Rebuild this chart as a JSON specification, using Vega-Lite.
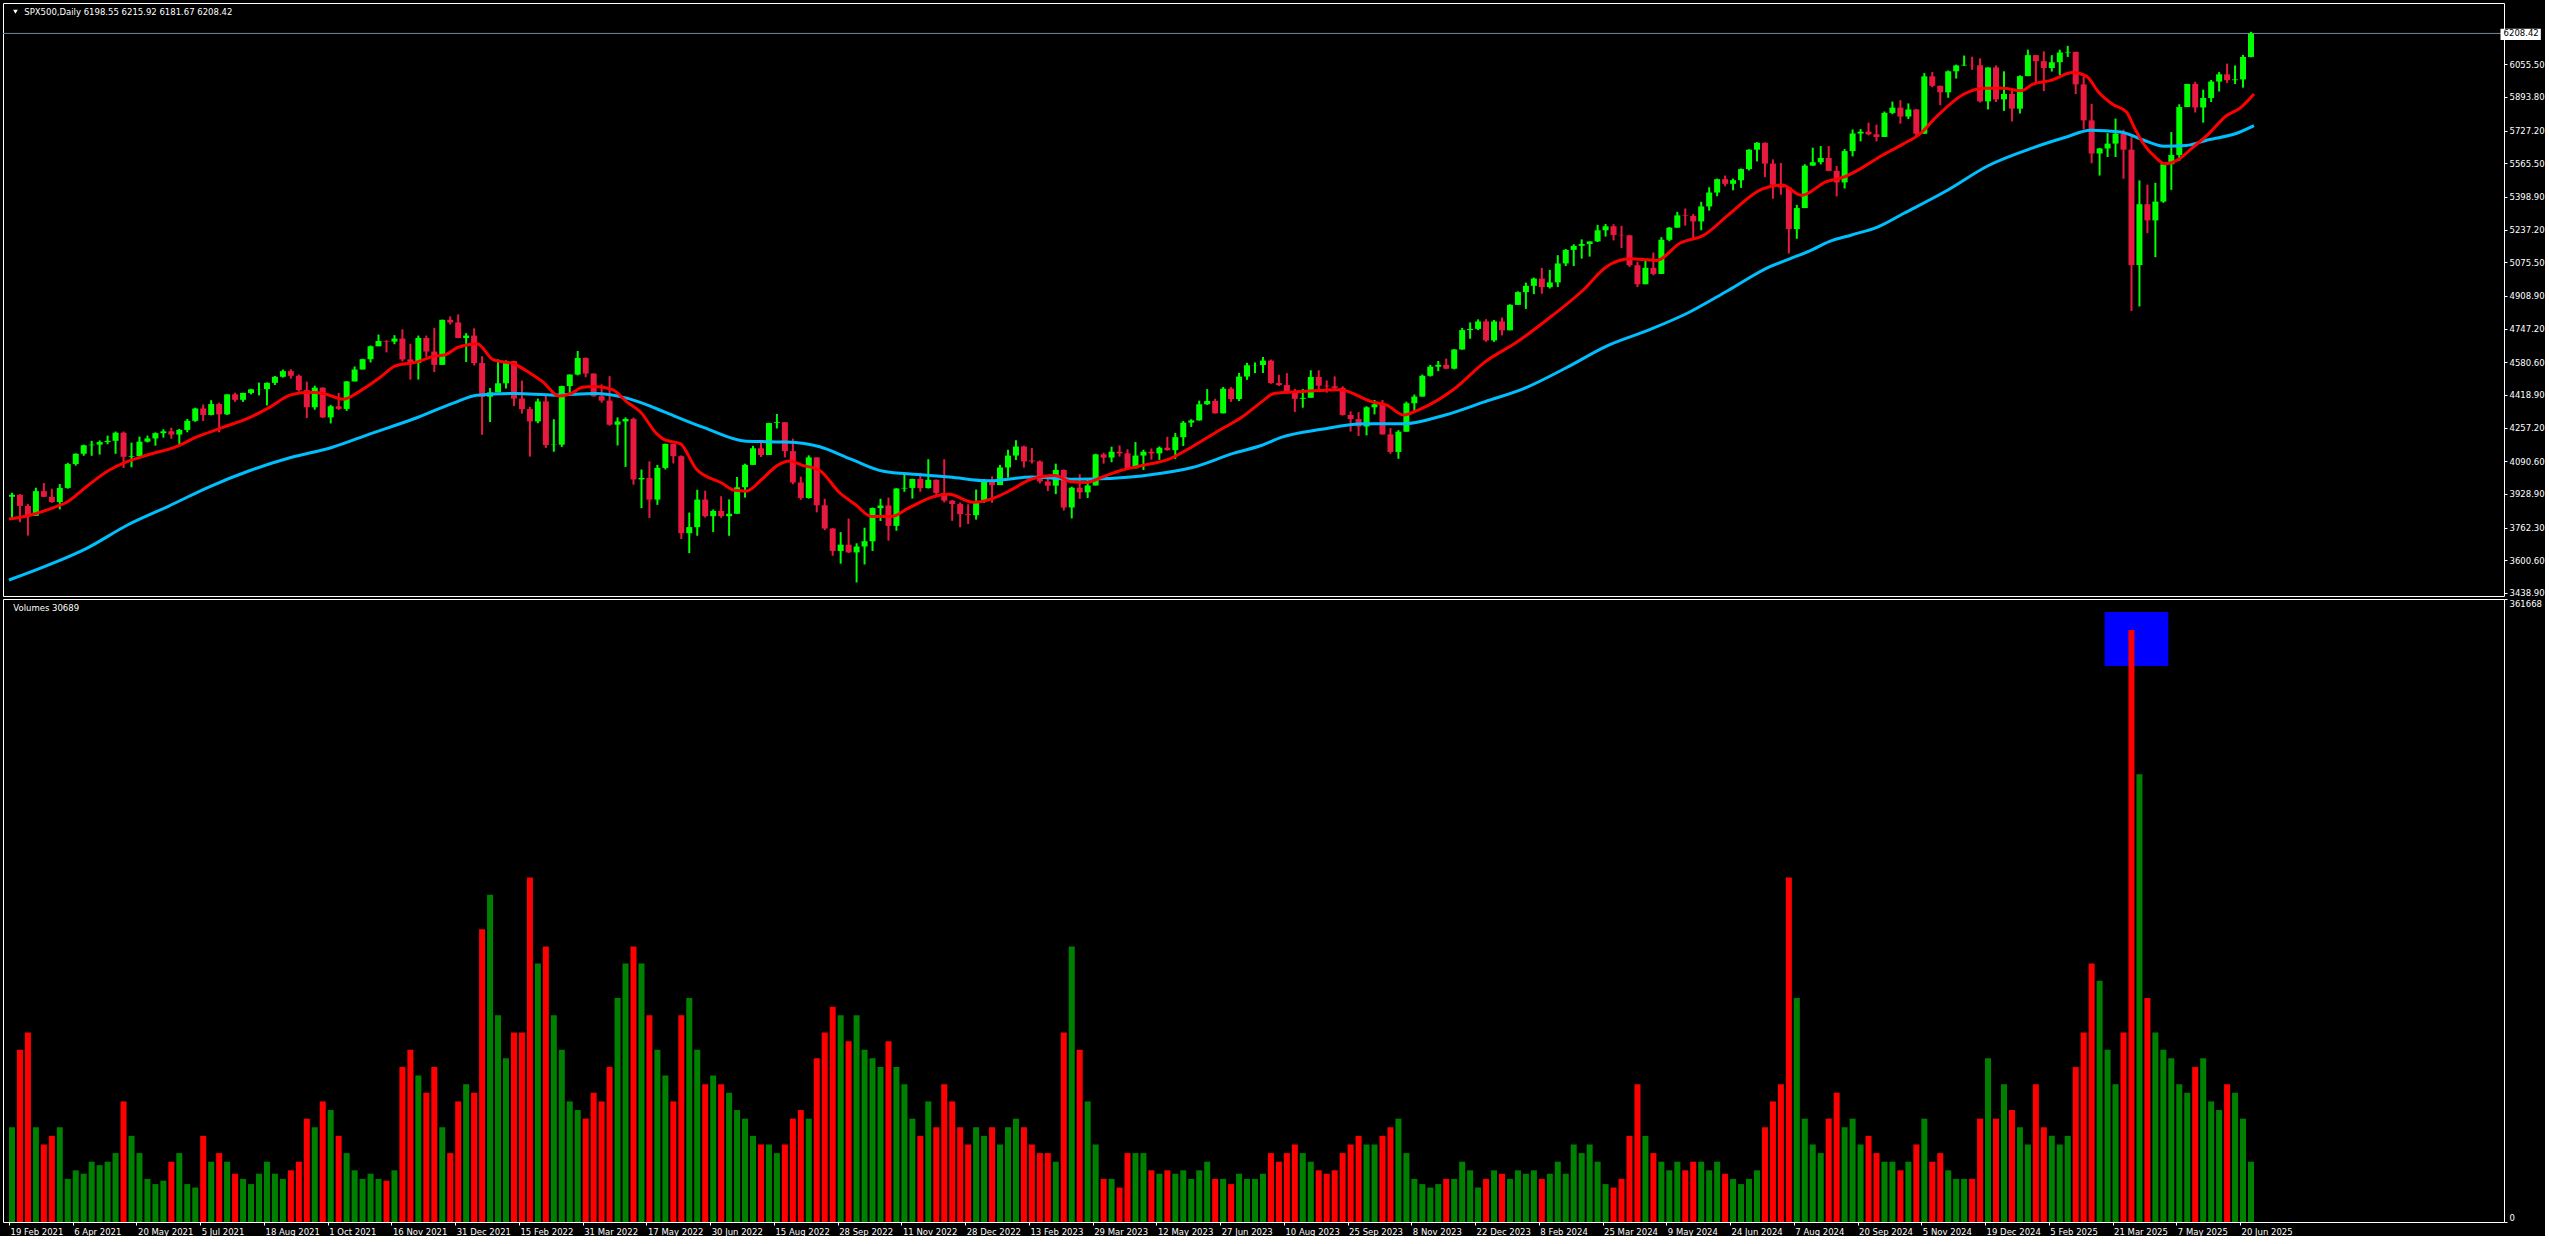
{
"$schema":"https://vega.github.io/schema/vega-lite/v6.json",
"background":"#000000",
"padding":{"left":2,"top":2,"right":0,"bottom":0},
"spacing":3,
"bounds":"flush",
"config":{"font":"DejaVu Sans","view":{"stroke":"#ffffff","strokeWidth":1,"fill":"#000000"},"axis":{"labelColor":"#ffffff","tickColor":"#ffffff","domain":false,"grid":false,"labelFont":"DejaVu Sans","labelFontSize":8.5,"tickSize":3,"labelPadding":2,"labelOverlap":false}},
"datasets":{
"bars":[
{"t":1.5,"o":3915,"h":3935,"l":3805,"c":3925,"v":55000},{"t":5.5,"o":3925,"h":3928,"l":3789,"c":3870,"v":100000},{"t":9.5,"o":3870,"h":3880,"l":3723,"c":3821,"v":110000},{"t":13.5,"o":3821,"h":3960,"l":3821,"c":3943,"v":55000},{"t":17.5,"o":3943,"h":3983,"l":3914,"c":3915,"v":45000},{"t":21.5,"o":3915,"h":3955,"l":3885,"c":3889,"v":50000},{"t":25.5,"o":3889,"h":3978,"l":3853,"c":3959,"v":55000},{"t":29.5,"o":3959,"h":4083,"l":3955,"c":4077,"v":25000},
{"t":33.5,"o":4077,"h":4130,"l":4069,"c":4128,"v":30000},{"t":37.5,"o":4128,"h":4173,"l":4118,"c":4170,"v":28000},{"t":41.5,"o":4170,"h":4192,"l":4118,"c":4173,"v":35000},{"t":45.5,"o":4173,"h":4194,"l":4124,"c":4186,"v":33000},{"t":49.5,"o":4186,"h":4218,"l":4175,"c":4192,"v":35000},{"t":53.5,"o":4192,"h":4238,"l":4128,"c":4232,"v":40000},{"t":57.5,"o":4232,"h":4238,"l":4057,"c":4113,"v":70000},{"t":61.5,"o":4113,"h":4183,"l":4061,"c":4116,"v":50000},
{"t":65.5,"o":4116,"h":4213,"l":4112,"c":4188,"v":40000},{"t":69.5,"o":4188,"h":4218,"l":4184,"c":4204,"v":25000},{"t":73.5,"o":4204,"h":4234,"l":4168,"c":4230,"v":22000},{"t":77.5,"o":4230,"h":4249,"l":4208,"c":4239,"v":24000},{"t":81.5,"o":4239,"h":4257,"l":4202,"c":4223,"v":35000},{"t":85.5,"o":4223,"h":4251,"l":4164,"c":4246,"v":40000},{"t":89.5,"o":4246,"h":4300,"l":4234,"c":4291,"v":22000},{"t":93.5,"o":4291,"h":4356,"l":4286,"c":4352,"v":20000},
{"t":97.5,"o":4352,"h":4372,"l":4290,"c":4320,"v":50000},{"t":101.5,"o":4320,"h":4393,"l":4318,"c":4374,"v":35000},{"t":105.5,"o":4374,"h":4381,"l":4234,"c":4323,"v":40000},{"t":109.5,"o":4323,"h":4422,"l":4320,"c":4422,"v":35000},{"t":113.5,"o":4422,"h":4430,"l":4385,"c":4395,"v":28000},{"t":117.5,"o":4395,"h":4430,"l":4385,"c":4429,"v":25000},{"t":121.5,"o":4429,"h":4449,"l":4422,"c":4447,"v":22000},{"t":125.5,"o":4447,"h":4480,"l":4417,"c":4448,"v":28000},
{"t":129.5,"o":4448,"h":4481,"l":4367,"c":4479,"v":35000},{"t":133.5,"o":4479,"h":4513,"l":4468,"c":4509,"v":28000},{"t":137.5,"o":4509,"h":4545,"l":4505,"c":4537,"v":25000},{"t":141.5,"o":4537,"h":4546,"l":4500,"c":4514,"v":30000},{"t":145.5,"o":4514,"h":4520,"l":4436,"c":4443,"v":35000},{"t":149.5,"o":4443,"h":4485,"l":4305,"c":4358,"v":60000},{"t":153.5,"o":4358,"h":4465,"l":4346,"c":4455,"v":55000},{"t":157.5,"o":4455,"h":4457,"l":4305,"c":4308,"v":70000},
{"t":161.5,"o":4308,"h":4370,"l":4278,"c":4363,"v":65000},{"t":165.5,"o":4363,"h":4429,"l":4345,"c":4350,"v":50000},{"t":169.5,"o":4350,"h":4488,"l":4340,"c":4486,"v":40000},{"t":173.5,"o":4486,"h":4560,"l":4486,"c":4545,"v":30000},{"t":177.5,"o":4545,"h":4598,"l":4545,"c":4596,"v":25000},{"t":181.5,"o":4596,"h":4664,"l":4580,"c":4660,"v":28000},{"t":185.5,"o":4660,"h":4718,"l":4660,"c":4686,"v":25000},{"t":189.5,"o":4686,"h":4690,"l":4630,"c":4683,"v":24000},
{"t":193.5,"o":4683,"h":4715,"l":4670,"c":4698,"v":30000},{"t":197.5,"o":4698,"h":4744,"l":4585,"c":4595,"v":90000},{"t":201.5,"o":4595,"h":4672,"l":4495,"c":4577,"v":100000},{"t":205.5,"o":4577,"h":4713,"l":4495,"c":4701,"v":85000},{"t":209.5,"o":4701,"h":4713,"l":4608,"c":4634,"v":75000},{"t":213.5,"o":4634,"h":4751,"l":4532,"c":4568,"v":90000},{"t":217.5,"o":4568,"h":4792,"l":4568,"c":4791,"v":55000},{"t":221.5,"o":4791,"h":4808,"l":4768,"c":4778,"v":40000},
{"t":225.5,"o":4778,"h":4818,"l":4700,"c":4701,"v":70000},{"t":229.5,"o":4701,"h":4725,"l":4582,"c":4713,"v":80000},{"t":233.5,"o":4713,"h":4749,"l":4565,"c":4577,"v":75000},{"t":237.5,"o":4577,"h":4611,"l":4222,"c":4410,"v":170000},{"t":241.5,"o":4410,"h":4453,"l":4285,"c":4432,"v":190000},{"t":245.5,"o":4432,"h":4595,"l":4432,"c":4477,"v":120000},{"t":249.5,"o":4477,"h":4590,"l":4451,"c":4587,"v":95000},{"t":253.5,"o":4587,"h":4588,"l":4364,"c":4401,"v":110000},
{"t":257.5,"o":4401,"h":4490,"l":4327,"c":4349,"v":110000},{"t":261.5,"o":4349,"h":4360,"l":4114,"c":4288,"v":200000},{"t":265.5,"o":4288,"h":4401,"l":4279,"c":4387,"v":150000},{"t":269.5,"o":4387,"h":4416,"l":4157,"c":4171,"v":160000},{"t":273.5,"o":4171,"h":4299,"l":4138,"c":4173,"v":120000},{"t":277.5,"o":4173,"h":4465,"l":4162,"c":4463,"v":100000},{"t":281.5,"o":4463,"h":4521,"l":4424,"c":4520,"v":70000},{"t":285.5,"o":4520,"h":4637,"l":4516,"c":4602,"v":65000},
{"t":289.5,"o":4602,"h":4605,"l":4507,"c":4525,"v":60000},{"t":293.5,"o":4525,"h":4525,"l":4410,"c":4413,"v":75000},{"t":297.5,"o":4413,"h":4471,"l":4381,"c":4391,"v":70000},{"t":301.5,"o":4391,"h":4512,"l":4267,"c":4272,"v":90000},{"t":305.5,"o":4272,"h":4308,"l":4169,"c":4288,"v":130000},{"t":309.5,"o":4288,"h":4308,"l":4063,"c":4300,"v":150000},{"t":313.5,"o":4300,"h":4307,"l":3975,"c":4001,"v":160000},{"t":317.5,"o":4001,"h":4050,"l":3859,"c":4008,"v":150000},
{"t":321.5,"o":4008,"h":4090,"l":3810,"c":3901,"v":120000},{"t":325.5,"o":3901,"h":4073,"l":3875,"c":4058,"v":100000},{"t":329.5,"o":4058,"h":4178,"l":4050,"c":4177,"v":85000},{"t":333.5,"o":4177,"h":4177,"l":4080,"c":4116,"v":70000},{"t":337.5,"o":4116,"h":4120,"l":3706,"c":3735,"v":120000},{"t":341.5,"o":3735,"h":3837,"l":3636,"c":3765,"v":130000},{"t":345.5,"o":3765,"h":3950,"l":3722,"c":3901,"v":100000},{"t":349.5,"o":3901,"h":3945,"l":3812,"c":3819,"v":80000},
{"t":353.5,"o":3819,"h":3852,"l":3741,"c":3845,"v":85000},{"t":357.5,"o":3845,"h":3918,"l":3811,"c":3819,"v":80000},{"t":361.5,"o":3819,"h":3902,"l":3722,"c":3831,"v":75000},{"t":365.5,"o":3831,"h":4013,"l":3831,"c":3962,"v":65000},{"t":369.5,"o":3962,"h":4079,"l":3911,"c":4073,"v":60000},{"t":373.5,"o":4073,"h":4167,"l":4073,"c":4155,"v":50000},{"t":377.5,"o":4155,"h":4187,"l":4112,"c":4122,"v":45000},{"t":381.5,"o":4122,"h":4281,"l":4122,"c":4280,"v":45000},
{"t":385.5,"o":4280,"h":4325,"l":4253,"c":4284,"v":40000},{"t":389.5,"o":4284,"h":4284,"l":4110,"c":4141,"v":45000},{"t":393.5,"o":4141,"h":4203,"l":3977,"c":3986,"v":60000},{"t":397.5,"o":3986,"h":4015,"l":3900,"c":3909,"v":65000},{"t":401.5,"o":3909,"h":4120,"l":3906,"c":4110,"v":60000},{"t":405.5,"o":4110,"h":4110,"l":3838,"c":3873,"v":95000},{"t":409.5,"o":3873,"h":3905,"l":3750,"c":3758,"v":110000},{"t":413.5,"o":3758,"h":3760,"l":3623,"c":3647,"v":125000},
{"t":417.5,"o":3647,"h":3740,"l":3584,"c":3678,"v":120000},{"t":421.5,"o":3678,"h":3807,"l":3637,"c":3640,"v":105000},{"t":425.5,"o":3640,"h":3685,"l":3491,"c":3669,"v":120000},{"t":429.5,"o":3669,"h":3762,"l":3580,"c":3695,"v":100000},{"t":433.5,"o":3695,"h":3862,"l":3647,"c":3859,"v":95000},{"t":437.5,"o":3859,"h":3905,"l":3795,"c":3872,"v":90000},{"t":441.5,"o":3872,"h":3911,"l":3698,"c":3771,"v":105000},{"t":445.5,"o":3771,"h":3958,"l":3747,"c":3956,"v":90000},
{"t":449.5,"o":3956,"h":4028,"l":3940,"c":3959,"v":80000},{"t":453.5,"o":3959,"h":4005,"l":3906,"c":4003,"v":60000},{"t":457.5,"o":4003,"h":4034,"l":3940,"c":3958,"v":50000},{"t":461.5,"o":3958,"h":4101,"l":3956,"c":3999,"v":70000},{"t":465.5,"o":3999,"h":4001,"l":3919,"c":3934,"v":55000},{"t":469.5,"o":3934,"h":4101,"l":3887,"c":3896,"v":80000},{"t":473.5,"o":3896,"h":3900,"l":3796,"c":3879,"v":70000},{"t":477.5,"o":3879,"h":3887,"l":3764,"c":3829,"v":55000},
{"t":481.5,"o":3829,"h":3878,"l":3780,"c":3824,"v":45000},{"t":485.5,"o":3824,"h":3951,"l":3802,"c":3893,"v":55000},{"t":489.5,"o":3893,"h":4003,"l":3885,"c":3999,"v":50000},{"t":493.5,"o":3999,"h":4016,"l":3885,"c":3973,"v":55000},{"t":497.5,"o":3973,"h":4073,"l":3973,"c":4060,"v":45000},{"t":501.5,"o":4060,"h":4148,"l":4010,"c":4119,"v":55000},{"t":505.5,"o":4119,"h":4195,"l":4097,"c":4164,"v":60000},{"t":509.5,"o":4164,"h":4168,"l":4060,"c":4090,"v":55000},
{"t":513.5,"o":4095,"h":4156,"l":4080,"c":4090,"v":45000},{"t":517.5,"o":4090,"h":4095,"l":3981,"c":3991,"v":40000},{"t":521.5,"o":3991,"h":4018,"l":3943,"c":3970,"v":40000},{"t":525.5,"o":3970,"h":4079,"l":3928,"c":4048,"v":35000},{"t":529.5,"o":4048,"h":4050,"l":3847,"c":3862,"v":110000},{"t":533.5,"o":3862,"h":3965,"l":3808,"c":3960,"v":160000},{"t":537.5,"o":3960,"h":4027,"l":3905,"c":3937,"v":100000},{"t":541.5,"o":3937,"h":4000,"l":3909,"c":3971,"v":70000},
{"t":545.5,"o":3971,"h":4128,"l":3971,"c":4125,"v":45000},{"t":549.5,"o":4125,"h":4133,"l":4079,"c":4109,"v":25000},{"t":553.5,"o":4109,"h":4163,"l":4086,"c":4138,"v":25000},{"t":557.5,"o":4138,"h":4169,"l":4114,"c":4130,"v":20000},{"t":561.5,"o":4130,"h":4150,"l":4049,"c":4056,"v":40000},{"t":565.5,"o":4056,"h":4186,"l":4056,"c":4119,"v":40000},{"t":569.5,"o":4119,"h":4148,"l":4048,"c":4138,"v":40000},{"t":573.5,"o":4138,"h":4154,"l":4099,"c":4130,"v":30000},
{"t":577.5,"o":4130,"h":4164,"l":4098,"c":4158,"v":28000},{"t":581.5,"o":4158,"h":4212,"l":4143,"c":4146,"v":30000},{"t":585.5,"o":4146,"h":4231,"l":4103,"c":4210,"v":28000},{"t":589.5,"o":4210,"h":4290,"l":4166,"c":4282,"v":30000},{"t":593.5,"o":4282,"h":4299,"l":4261,"c":4293,"v":25000},{"t":597.5,"o":4293,"h":4391,"l":4292,"c":4373,"v":30000},{"t":601.5,"o":4373,"h":4448,"l":4370,"c":4389,"v":35000},{"t":605.5,"o":4389,"h":4400,"l":4327,"c":4328,"v":25000},
{"t":609.5,"o":4328,"h":4458,"l":4328,"c":4450,"v":25000},{"t":613.5,"o":4450,"h":4458,"l":4385,"c":4399,"v":22000},{"t":617.5,"o":4399,"h":4528,"l":4389,"c":4510,"v":28000},{"t":621.5,"o":4510,"h":4578,"l":4494,"c":4566,"v":25000},{"t":625.5,"o":4566,"h":4580,"l":4527,"c":4567,"v":25000},{"t":629.5,"o":4567,"h":4607,"l":4528,"c":4589,"v":28000},{"t":633.5,"o":4589,"h":4594,"l":4474,"c":4478,"v":40000},{"t":637.5,"o":4478,"h":4519,"l":4463,"c":4468,"v":35000},
{"t":641.5,"o":4468,"h":4527,"l":4432,"c":4437,"v":40000},{"t":645.5,"o":4437,"h":4449,"l":4335,"c":4400,"v":45000},{"t":649.5,"o":4400,"h":4448,"l":4356,"c":4405,"v":40000},{"t":653.5,"o":4405,"h":4541,"l":4405,"c":4508,"v":35000},{"t":657.5,"o":4508,"h":4541,"l":4442,"c":4465,"v":30000},{"t":661.5,"o":4465,"h":4491,"l":4430,"c":4462,"v":28000},{"t":665.5,"o":4462,"h":4511,"l":4442,"c":4454,"v":30000},{"t":669.5,"o":4454,"h":4462,"l":4317,"c":4320,"v":40000},
{"t":673.5,"o":4320,"h":4338,"l":4238,"c":4300,"v":45000},{"t":677.5,"o":4300,"h":4334,"l":4216,"c":4263,"v":50000},{"t":681.5,"o":4263,"h":4363,"l":4219,"c":4358,"v":45000},{"t":685.5,"o":4358,"h":4394,"l":4323,"c":4373,"v":45000},{"t":689.5,"o":4373,"h":4394,"l":4223,"c":4224,"v":50000},{"t":693.5,"o":4224,"h":4255,"l":4128,"c":4137,"v":55000},{"t":697.5,"o":4137,"h":4245,"l":4103,"c":4237,"v":60000},{"t":701.5,"o":4237,"h":4386,"l":4237,"c":4378,"v":40000},
{"t":705.5,"o":4378,"h":4421,"l":4340,"c":4411,"v":25000},{"t":709.5,"o":4411,"h":4520,"l":4411,"c":4514,"v":22000},{"t":713.5,"o":4514,"h":4568,"l":4510,"c":4559,"v":20000},{"t":717.5,"o":4559,"h":4587,"l":4537,"c":4568,"v":22000},{"t":721.5,"o":4568,"h":4599,"l":4546,"c":4549,"v":25000},{"t":725.5,"o":4549,"h":4646,"l":4546,"c":4644,"v":25000},{"t":729.5,"o":4644,"h":4751,"l":4643,"c":4740,"v":35000},{"t":733.5,"o":4740,"h":4778,"l":4697,"c":4746,"v":30000},
{"t":737.5,"o":4746,"h":4793,"l":4740,"c":4783,"v":20000},{"t":741.5,"o":4783,"h":4794,"l":4682,"c":4689,"v":25000},{"t":745.5,"o":4689,"h":4790,"l":4682,"c":4783,"v":30000},{"t":749.5,"o":4783,"h":4802,"l":4714,"c":4739,"v":28000},{"t":753.5,"o":4739,"h":4868,"l":4739,"c":4865,"v":25000},{"t":757.5,"o":4865,"h":4932,"l":4865,"c":4928,"v":30000},{"t":761.5,"o":4928,"h":4975,"l":4845,"c":4959,"v":28000},{"t":765.5,"o":4959,"h":5000,"l":4918,"c":4995,"v":30000},
{"t":769.5,"o":4995,"h":5048,"l":4920,"c":4953,"v":25000},{"t":773.5,"o":4953,"h":5038,"l":4946,"c":4976,"v":28000},{"t":777.5,"o":4976,"h":5111,"l":4953,"c":5070,"v":35000},{"t":781.5,"o":5070,"h":5141,"l":5057,"c":5137,"v":28000},{"t":785.5,"o":5137,"h":5165,"l":5057,"c":5157,"v":45000},{"t":789.5,"o":5157,"h":5189,"l":5094,"c":5166,"v":40000},{"t":793.5,"o":5166,"h":5179,"l":5104,"c":5179,"v":45000},{"t":797.5,"o":5179,"h":5261,"l":5176,"c":5234,"v":35000},
{"t":801.5,"o":5234,"h":5265,"l":5203,"c":5254,"v":22000},{"t":805.5,"o":5254,"h":5264,"l":5184,"c":5211,"v":20000},{"t":809.5,"o":5211,"h":5256,"l":5146,"c":5209,"v":25000},{"t":813.5,"o":5209,"h":5211,"l":5053,"c":5061,"v":50000},{"t":817.5,"o":5061,"h":5078,"l":4953,"c":4967,"v":80000},{"t":821.5,"o":4967,"h":5089,"l":4967,"c":5048,"v":50000},{"t":825.5,"o":5048,"h":5124,"l":5011,"c":5018,"v":40000},{"t":829.5,"o":5018,"h":5200,"l":5018,"c":5187,"v":35000},
{"t":833.5,"o":5187,"h":5250,"l":5180,"c":5247,"v":30000},{"t":837.5,"o":5247,"h":5325,"l":5247,"c":5308,"v":35000},{"t":841.5,"o":5308,"h":5342,"l":5257,"c":5305,"v":30000},{"t":845.5,"o":5305,"h":5315,"l":5191,"c":5278,"v":35000},{"t":849.5,"o":5278,"h":5375,"l":5234,"c":5352,"v":35000},{"t":853.5,"o":5352,"h":5447,"l":5331,"c":5421,"v":30000},{"t":857.5,"o":5421,"h":5490,"l":5403,"c":5487,"v":35000},{"t":861.5,"o":5487,"h":5505,"l":5452,"c":5464,"v":28000},
{"t":865.5,"o":5464,"h":5490,"l":5432,"c":5482,"v":25000},{"t":869.5,"o":5482,"h":5540,"l":5444,"c":5537,"v":22000},{"t":873.5,"o":5537,"h":5635,"l":5530,"c":5633,"v":25000},{"t":877.5,"o":5633,"h":5670,"l":5575,"c":5667,"v":30000},{"t":881.5,"o":5667,"h":5669,"l":5497,"c":5564,"v":55000},{"t":885.5,"o":5564,"h":5585,"l":5390,"c":5459,"v":70000},{"t":889.5,"o":5459,"h":5567,"l":5410,"c":5446,"v":80000},{"t":893.5,"o":5446,"h":5447,"l":5119,"c":5240,"v":200000},
{"t":897.5,"o":5240,"h":5360,"l":5192,"c":5344,"v":130000},{"t":901.5,"o":5344,"h":5561,"l":5344,"c":5554,"v":60000},{"t":905.5,"o":5554,"h":5643,"l":5554,"c":5571,"v":45000},{"t":909.5,"o":5571,"h":5651,"l":5560,"c":5592,"v":40000},{"t":913.5,"o":5592,"h":5651,"l":5527,"c":5528,"v":60000},{"t":917.5,"o":5528,"h":5552,"l":5402,"c":5471,"v":75000},{"t":921.5,"o":5471,"h":5636,"l":5441,"c":5626,"v":55000},{"t":925.5,"o":5626,"h":5733,"l":5600,"c":5713,"v":60000},
{"t":929.5,"o":5713,"h":5735,"l":5674,"c":5722,"v":45000},{"t":933.5,"o":5722,"h":5767,"l":5704,"c":5709,"v":50000},{"t":937.5,"o":5709,"h":5757,"l":5674,"c":5696,"v":40000},{"t":941.5,"o":5696,"h":5822,"l":5696,"c":5815,"v":35000},{"t":945.5,"o":5815,"h":5871,"l":5809,"c":5841,"v":35000},{"t":949.5,"o":5841,"h":5878,"l":5762,"c":5797,"v":30000},{"t":953.5,"o":5797,"h":5862,"l":5785,"c":5832,"v":35000},{"t":957.5,"o":5832,"h":5835,"l":5696,"c":5712,"v":45000},
{"t":961.5,"o":5712,"h":6012,"l":5712,"c":5996,"v":60000},{"t":965.5,"o":5996,"h":6018,"l":5942,"c":5949,"v":35000},{"t":969.5,"o":5949,"h":5950,"l":5853,"c":5917,"v":40000},{"t":973.5,"o":5917,"h":6025,"l":5890,"c":6021,"v":30000},{"t":977.5,"o":6021,"h":6054,"l":5985,"c":6050,"v":25000},{"t":981.5,"o":6050,"h":6099,"l":6048,"c":6053,"v":25000},{"t":985.5,"o":6053,"h":6093,"l":6028,"c":6051,"v":25000},{"t":989.5,"o":6051,"h":6085,"l":5867,"c":5872,"v":60000},
{"t":993.5,"o":5872,"h":6040,"l":5832,"c":6040,"v":95000},{"t":997.5,"o":6040,"h":6050,"l":5869,"c":5882,"v":60000},{"t":1001.5,"o":5882,"h":6021,"l":5825,"c":5909,"v":80000},{"t":1005.5,"o":5909,"h":5928,"l":5773,"c":5836,"v":65000},{"t":1009.5,"o":5836,"h":6001,"l":5812,"c":5997,"v":55000},{"t":1013.5,"o":5997,"h":6128,"l":5997,"c":6101,"v":45000},{"t":1017.5,"o":6101,"h":6101,"l":5962,"c":6071,"v":80000},{"t":1021.5,"o":6071,"h":6120,"l":5923,"c":6037,"v":55000},
{"t":1025.5,"o":6037,"h":6101,"l":6020,"c":6066,"v":50000},{"t":1029.5,"o":6066,"h":6128,"l":6003,"c":6114,"v":45000},{"t":1033.5,"o":6114,"h":6147,"l":6092,"c":6117,"v":50000},{"t":1037.5,"o":6117,"h":6118,"l":5908,"c":5956,"v":90000},{"t":1041.5,"o":5956,"h":5993,"l":5733,"c":5778,"v":110000},{"t":1045.5,"o":5778,"h":5860,"l":5566,"c":5614,"v":150000},{"t":1049.5,"o":5614,"h":5642,"l":5505,"c":5639,"v":140000},{"t":1053.5,"o":5639,"h":5715,"l":5597,"c":5663,"v":100000},
{"t":1057.5,"o":5663,"h":5787,"l":5597,"c":5712,"v":80000},{"t":1061.5,"o":5712,"h":5732,"l":5489,"c":5633,"v":110000},{"t":1065.5,"o":5633,"h":5695,"l":4835,"c":5062,"v":343700},{"t":1069.5,"o":5062,"h":5481,"l":4857,"c":5363,"v":260000},{"t":1073.5,"o":5363,"h":5460,"l":5220,"c":5283,"v":130000},{"t":1077.5,"o":5283,"h":5469,"l":5101,"c":5376,"v":110000},{"t":1081.5,"o":5376,"h":5571,"l":5370,"c":5561,"v":100000},{"t":1085.5,"o":5561,"h":5720,"l":5434,"c":5607,"v":95000},
{"t":1089.5,"o":5607,"h":5858,"l":5578,"c":5844,"v":80000},{"t":1093.5,"o":5844,"h":5959,"l":5844,"c":5958,"v":75000},{"t":1097.5,"o":5958,"h":5969,"l":5817,"c":5842,"v":90000},{"t":1101.5,"o":5842,"h":5930,"l":5767,"c":5889,"v":95000},{"t":1105.5,"o":5889,"h":5978,"l":5869,"c":5970,"v":70000},{"t":1109.5,"o":5970,"h":6017,"l":5921,"c":6006,"v":65000},{"t":1113.5,"o":6006,"h":6059,"l":5963,"c":5977,"v":80000},{"t":1117.5,"o":5977,"h":6050,"l":5958,"c":5981,"v":75000},
{"t":1121.5,"o":5981,"h":6102,"l":5940,"c":6092,"v":60000},{"t":1125.5,"o":6092,"h":6216,"l":6090,"c":6208,"v":35000}
],
"fast":[
{"t":0,"p":3805},{"t":11,"p":3825},{"t":23,"p":3864},{"t":29,"p":3888},{"t":39,"p":3966},{"t":50,"p":4045},{"t":58,"p":4084},{"t":70,"p":4123},{"t":84,"p":4163},{"t":94,"p":4210},{"t":107,"p":4257},{"t":121,"p":4308},{"t":131,"p":4359},{"t":141,"p":4418},{"t":150,"p":4433},{"t":158,"p":4426},{"t":168,"p":4398},{"t":176,"p":4437},{"t":186,"p":4504},{"t":194,"p":4563},{"t":205,"p":4583},{"t":213,"p":4610},{"t":219,"p":4618},{"t":225,"p":4653},{"t":231,"p":4669},{"t":235,"p":4673},{"t":243,"p":4594},{"t":254,"p":4571},{"t":262,"p":4524},{"t":268,"p":4484},{"t":276,"p":4414},{"t":282,"p":4426},{"t":288,"p":4457},{"t":294,"p":4461},{"t":303,"p":4445},{"t":310,"p":4386},{"t":317,"p":4335},{"t":325,"p":4229},{"t":329,"p":4198},{"t":337,"p":4178},{"t":345,"p":4053},{"t":358,"p":3982},{"t":364,"p":3947},{"t":370,"p":3943},{"t":378,"p":4002},{"t":386,"p":4072},{"t":392,"p":4092},{"t":398,"p":4072},{"t":407,"p":4045},{"t":417,"p":3935},{"t":425,"p":3876},{"t":433,"p":3817},{"t":443,"p":3817},{"t":451,"p":3856},{"t":464,"p":3915},{"t":472,"p":3927},{"t":484,"p":3888},{"t":496,"p":3915},{"t":504,"p":3954},{"t":513,"p":4002},{"t":525,"p":4021},{"t":533,"p":3990},{"t":541,"p":3986},{"t":549,"p":4013},{"t":558,"p":4045},{"t":570,"p":4072},{"t":582,"p":4100},{"t":594,"p":4163},{"t":607,"p":4241},{"t":619,"p":4310},{"t":629,"p":4386},{"t":635,"p":4426},{"t":651,"p":4437},{"t":668,"p":4445},{"t":684,"p":4386},{"t":692,"p":4367},{"t":700,"p":4320},{"t":708,"p":4347},{"t":725,"p":4445},{"t":741,"p":4583},{"t":757,"p":4681},{"t":774,"p":4806},{"t":790,"p":4936},{"t":802,"p":5054},{"t":814,"p":5093},{"t":827,"p":5085},{"t":839,"p":5171},{"t":851,"p":5211},{"t":863,"p":5309},{"t":880,"p":5438},{"t":890,"p":5458},{"t":900,"p":5407},{"t":912,"p":5474},{"t":921,"p":5497},{"t":929,"p":5536},{"t":940,"p":5603},{"t":951,"p":5662},{"t":959,"p":5709},{"t":968,"p":5800},{"t":981,"p":5906},{"t":992,"p":5937},{"t":1001,"p":5937},{"t":1010,"p":5925},{"t":1016,"p":5957},{"t":1025,"p":5976},{"t":1036,"p":6015},{"t":1043,"p":5996},{"t":1049,"p":5917},{"t":1056,"p":5858},{"t":1063,"p":5819},{"t":1067,"p":5741},{"t":1071,"p":5670},{"t":1078,"p":5591},{"t":1082,"p":5564},{"t":1089,"p":5584},{"t":1096,"p":5642},{"t":1104,"p":5709},{"t":1113,"p":5800},{"t":1120,"p":5839},{"t":1127,"p":5909}
],
"slow":[
{"t":0,"p":3503},{"t":19,"p":3574},{"t":39,"p":3660},{"t":60,"p":3778},{"t":80,"p":3868},{"t":100,"p":3962},{"t":121,"p":4045},{"t":141,"p":4108},{"t":162,"p":4159},{"t":182,"p":4229},{"t":203,"p":4300},{"t":223,"p":4379},{"t":235,"p":4418},{"t":254,"p":4426},{"t":274,"p":4418},{"t":294,"p":4426},{"t":309,"p":4406},{"t":319,"p":4375},{"t":329,"p":4335},{"t":349,"p":4257},{"t":370,"p":4190},{"t":390,"p":4186},{"t":407,"p":4163},{"t":423,"p":4100},{"t":439,"p":4041},{"t":456,"p":4025},{"t":472,"p":4013},{"t":492,"p":3994},{"t":513,"p":4013},{"t":533,"p":4002},{"t":553,"p":4006},{"t":574,"p":4025},{"t":594,"p":4060},{"t":615,"p":4131},{"t":629,"p":4170},{"t":639,"p":4210},{"t":659,"p":4249},{"t":680,"p":4276},{"t":700,"p":4276},{"t":721,"p":4320},{"t":741,"p":4386},{"t":761,"p":4453},{"t":782,"p":4555},{"t":802,"p":4661},{"t":823,"p":4740},{"t":843,"p":4826},{"t":863,"p":4936},{"t":884,"p":5054},{"t":894,"p":5093},{"t":904,"p":5132},{"t":914,"p":5179},{"t":925,"p":5211},{"t":938,"p":5250},{"t":951,"p":5317},{"t":972,"p":5426},{"t":994,"p":5556},{"t":1016,"p":5642},{"t":1032,"p":5693},{"t":1045,"p":5729},{"t":1060,"p":5721},{"t":1071,"p":5682},{"t":1082,"p":5650},{"t":1093,"p":5654},{"t":1104,"p":5682},{"t":1118,"p":5713},{"t":1127,"p":5752}
]
},
"vconcat":[
{
"width":2501,"height":593,
"layer":[
{"data":{"values":[{}]},"mark":{"type":"rule","color":"#778899","strokeWidth":1},"encoding":{"y":{"datum":6208.42,"type":"quantitative","scale":{"domain":[3424,6359],"nice":false,"zero":false},"axis":{"orient":"right","title":null,"values":[3438.9,3600.6,3762.3,3928.9,4090.6,4257.2,4418.9,4580.6,4747.2,4908.9,5075.5,5237.2,5398.9,5565.5,5727.2,5893.8,6055.5],"format":".2f"}}}},
{"data":{"name":"bars"},"mark":{"type":"rule","strokeWidth":2},"encoding":{
"x":{"field":"t","type":"quantitative","scale":{"domain":[-0.5,1250],"nice":false,"zero":false},"axis":null},
"y":{"field":"l","type":"quantitative","scale":{"domain":[3424,6359],"nice":false,"zero":false},"axis":{"orient":"right","title":null,"values":[3438.9,3600.6,3762.3,3928.9,4090.6,4257.2,4418.9,4580.6,4747.2,4908.9,5075.5,5237.2,5398.9,5565.5,5727.2,5893.8,6055.5],"format":".2f"}},
"y2":{"field":"h"},
"color":{"condition":{"test":"datum.c >= datum.o","value":"#00ff00"},"value":"#e8193f"}}},
{"data":{"name":"bars"},"mark":{"type":"bar","size":6,"orient":"vertical"},"encoding":{
"x":{"field":"t","type":"quantitative","scale":{"domain":[-0.5,1250],"nice":false,"zero":false},"axis":null},
"y":{"field":"o","type":"quantitative","scale":{"domain":[3424,6359],"nice":false,"zero":false},"axis":{"orient":"right","title":null,"values":[3438.9,3600.6,3762.3,3928.9,4090.6,4257.2,4418.9,4580.6,4747.2,4908.9,5075.5,5237.2,5398.9,5565.5,5727.2,5893.8,6055.5],"format":".2f"}},
"y2":{"field":"c"},
"color":{"condition":{"test":"datum.c >= datum.o","value":"#00ff00"},"value":"#e8193f"}}},
{"data":{"name":"slow"},"mark":{"type":"line","color":"#00bfff","strokeWidth":3,"interpolate":"monotone"},"encoding":{
"x":{"field":"t","type":"quantitative","scale":{"domain":[-0.5,1250],"nice":false,"zero":false},"axis":null},
"y":{"field":"p","type":"quantitative","scale":{"domain":[3424,6359],"nice":false,"zero":false},"axis":{"orient":"right","title":null,"values":[3438.9,3600.6,3762.3,3928.9,4090.6,4257.2,4418.9,4580.6,4747.2,4908.9,5075.5,5237.2,5398.9,5565.5,5727.2,5893.8,6055.5],"format":".2f"}}}},
{"data":{"name":"fast"},"mark":{"type":"line","color":"#ff0000","strokeWidth":3,"interpolate":"monotone"},"encoding":{
"x":{"field":"t","type":"quantitative","scale":{"domain":[-0.5,1250],"nice":false,"zero":false},"axis":null},
"y":{"field":"p","type":"quantitative","scale":{"domain":[3424,6359],"nice":false,"zero":false},"axis":{"orient":"right","title":null,"values":[3438.9,3600.6,3762.3,3928.9,4090.6,4257.2,4418.9,4580.6,4747.2,4908.9,5075.5,5237.2,5398.9,5565.5,5727.2,5893.8,6055.5],"format":".2f"}}}},
{"data":{"values":[{}]},"mark":{"type":"point","shape":"triangle-down","filled":true,"color":"#ffffff","opacity":1,"size":22},"encoding":{
"x":{"datum":3.25,"type":"quantitative","scale":{"domain":[-0.5,1250],"nice":false,"zero":false},"axis":null},
"y":{"datum":6316,"type":"quantitative","scale":{"domain":[3424,6359],"nice":false,"zero":false},"axis":{"orient":"right","title":null,"values":[3438.9,3600.6,3762.3,3928.9,4090.6,4257.2,4418.9,4580.6,4747.2,4908.9,5075.5,5237.2,5398.9,5565.5,5727.2,5893.8,6055.5],"format":".2f"}}}},
{"data":{"values":[{}]},"mark":{"type":"text","text":"SPX500,Daily  6198.55 6215.92 6181.67 6208.42","align":"left","baseline":"middle","color":"#ffffff","font":"DejaVu Sans","fontSize":8.5},"encoding":{
"x":{"datum":7.65,"type":"quantitative","scale":{"domain":[-0.5,1250],"nice":false,"zero":false},"axis":null},
"y":{"datum":6316,"type":"quantitative","scale":{"domain":[3424,6359],"nice":false,"zero":false},"axis":{"orient":"right","title":null,"values":[3438.9,3600.6,3762.3,3928.9,4090.6,4257.2,4418.9,4580.6,4747.2,4908.9,5075.5,5237.2,5398.9,5565.5,5727.2,5893.8,6055.5],"format":".2f"}}}},
{"data":{"values":[{}]},"mark":{"type":"rect","color":"#ffffff"},"encoding":{
"x":{"datum":1250.75,"type":"quantitative","scale":{"domain":[-0.5,1250],"nice":false,"zero":false},"axis":null},
"x2":{"datum":1271},
"y":{"datum":6231,"type":"quantitative","scale":{"domain":[3424,6359],"nice":false,"zero":false},"axis":{"orient":"right","title":null,"values":[3438.9,3600.6,3762.3,3928.9,4090.6,4257.2,4418.9,4580.6,4747.2,4908.9,5075.5,5237.2,5398.9,5565.5,5727.2,5893.8,6055.5],"format":".2f"}},
"y2":{"datum":6176}}},
{"data":{"values":[{}]},"mark":{"type":"text","text":"6208.42","align":"left","baseline":"middle","color":"#000000","font":"DejaVu Sans","fontSize":8.5},"encoding":{
"x":{"datum":1252.3,"type":"quantitative","scale":{"domain":[-0.5,1250],"nice":false,"zero":false},"axis":null},
"y":{"datum":6208.42,"type":"quantitative","scale":{"domain":[3424,6359],"nice":false,"zero":false},"axis":{"orient":"right","title":null,"values":[3438.9,3600.6,3762.3,3928.9,4090.6,4257.2,4418.9,4580.6,4747.2,4908.9,5075.5,5237.2,5398.9,5565.5,5727.2,5893.8,6055.5],"format":".2f"}}}}
]
},
{
"width":2501,"height":623,
"layer":[
{"data":{"values":[{}]},"mark":{"type":"rect","color":"#0000ff"},"encoding":{
"x":{"datum":1052,"type":"quantitative","scale":{"domain":[-0.5,1250],"nice":false,"zero":false},"axis":{"orient":"bottom","title":null,"values":[0,32,64,96,128,160,192,224,256,288,320,352,384,416,448,480,512,544,576,608,640,672,704,736,768,800,832,864,896,928,960,992,1024,1056,1088,1120],"labelExpr":"['19 Feb 2021','6 Apr 2021','20 May 2021','5 Jul 2021','18 Aug 2021','1 Oct 2021','16 Nov 2021','31 Dec 2021','15 Feb 2022','31 Mar 2022','17 May 2022','30 Jun 2022','15 Aug 2022','28 Sep 2022','11 Nov 2022','28 Dec 2022','13 Feb 2023','29 Mar 2023','12 May 2023','27 Jun 2023','10 Aug 2023','25 Sep 2023','8 Nov 2023','22 Dec 2023','8 Feb 2024','25 Mar 2024','9 May 2024','24 Jun 2024','7 Aug 2024','20 Sep 2024','5 Nov 2024','19 Dec 2024','5 Feb 2025','21 Mar 2025','7 May 2025','20 Jun 2025'][round(datum.value/32)]","labelAlign":"left","labelBaseline":"top","labelOffset":1,"labelFlush":false,"labelBound":false}},
"x2":{"datum":1084},
"y":{"datum":354130,"type":"quantitative","scale":{"domain":[0,361668],"nice":false,"zero":true},"axis":{"orient":"right","title":null,"values":[0,361668],"format":"d","labelFlush":true}},
"y2":{"datum":322760}}},
{"data":{"name":"bars"},"mark":{"type":"bar","size":6,"orient":"vertical"},"encoding":{
"x":{"field":"t","type":"quantitative","scale":{"domain":[-0.5,1250],"nice":false,"zero":false},"axis":{"orient":"bottom","title":null,"values":[0,32,64,96,128,160,192,224,256,288,320,352,384,416,448,480,512,544,576,608,640,672,704,736,768,800,832,864,896,928,960,992,1024,1056,1088,1120],"labelExpr":"['19 Feb 2021','6 Apr 2021','20 May 2021','5 Jul 2021','18 Aug 2021','1 Oct 2021','16 Nov 2021','31 Dec 2021','15 Feb 2022','31 Mar 2022','17 May 2022','30 Jun 2022','15 Aug 2022','28 Sep 2022','11 Nov 2022','28 Dec 2022','13 Feb 2023','29 Mar 2023','12 May 2023','27 Jun 2023','10 Aug 2023','25 Sep 2023','8 Nov 2023','22 Dec 2023','8 Feb 2024','25 Mar 2024','9 May 2024','24 Jun 2024','7 Aug 2024','20 Sep 2024','5 Nov 2024','19 Dec 2024','5 Feb 2025','21 Mar 2025','7 May 2025','20 Jun 2025'][round(datum.value/32)]","labelAlign":"left","labelBaseline":"top","labelOffset":1,"labelFlush":false,"labelBound":false}},
"y":{"field":"v","type":"quantitative","scale":{"domain":[0,361668],"nice":false,"zero":true},"axis":{"orient":"right","title":null,"values":[0,361668],"format":"d","labelFlush":true}},
"color":{"condition":{"test":"datum.c >= datum.o","value":"#008000"},"value":"#ff0000"}}},
{"data":{"values":[{}]},"mark":{"type":"text","text":"Volumes 30689","align":"left","baseline":"middle","color":"#ffffff","font":"DejaVu Sans","fontSize":8.5},"encoding":{
"x":{"datum":2.15,"type":"quantitative","scale":{"domain":[-0.5,1250],"nice":false,"zero":false},"axis":{"orient":"bottom","title":null,"values":[0,32,64,96,128,160,192,224,256,288,320,352,384,416,448,480,512,544,576,608,640,672,704,736,768,800,832,864,896,928,960,992,1024,1056,1088,1120],"labelExpr":"['19 Feb 2021','6 Apr 2021','20 May 2021','5 Jul 2021','18 Aug 2021','1 Oct 2021','16 Nov 2021','31 Dec 2021','15 Feb 2022','31 Mar 2022','17 May 2022','30 Jun 2022','15 Aug 2022','28 Sep 2022','11 Nov 2022','28 Dec 2022','13 Feb 2023','29 Mar 2023','12 May 2023','27 Jun 2023','10 Aug 2023','25 Sep 2023','8 Nov 2023','22 Dec 2023','8 Feb 2024','25 Mar 2024','9 May 2024','24 Jun 2024','7 Aug 2024','20 Sep 2024','5 Nov 2024','19 Dec 2024','5 Feb 2025','21 Mar 2025','7 May 2025','20 Jun 2025'][round(datum.value/32)]","labelAlign":"left","labelBaseline":"top","labelOffset":1,"labelFlush":false,"labelBound":false}},
"y":{"datum":356600,"type":"quantitative","scale":{"domain":[0,361668],"nice":false,"zero":true},"axis":{"orient":"right","title":null,"values":[0,361668],"format":"d","labelFlush":true}}}}
]
}
]
}
